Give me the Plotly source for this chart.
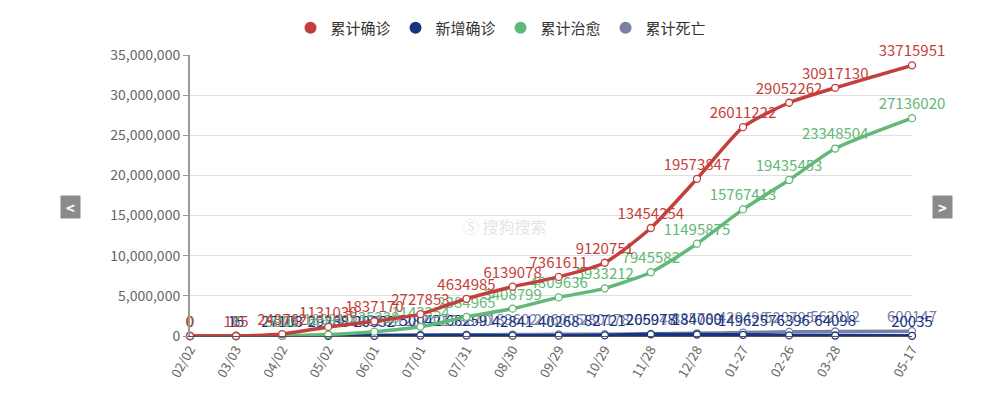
import plotly.graph_objects as go

dates = ["2020-02-02", "2020-03-03", "2020-04-02", "2020-05-02", "2020-06-01", "2020-07-01",
         "2020-07-31", "2020-08-30", "2020-09-29", "2020-10-29", "2020-11-28", "2020-12-28",
         "2021-01-27", "2021-02-26", "2021-03-28", "2021-05-17"]
tick_labels = ["02/02", "03/03", "04/02", "05/02", "06/01", "07/01", "07/31", "08/30", "09/29",
               "10/29", "11/28", "12/28", "01-27", "02-26", "03-28", "05-17"]

confirmed = [0, 115, 243762, 1131030, 1837170, 2727853, 4634985, 6139078, 7361611, 9120751,
             13454254, 19573847, 26011222, 29052262, 30917130, 33715951]
new_cases = [0, 15, 27103, 29288, 20352, 50042, 68259, 42841, 40268, 82721,
             205978, 184000, 149625, 76396, 64098, 20035]
recovered = [0, 7, 9001, 189910, 535238, 1143354, 2384965, 3408799, 4809636, 5933212,
             7945582, 11495875, 15767413, 19435453, 23348504, 27136020]
deaths = [0, 6, 5926, 66369, 106181, 128740, 153840, 183602, 206005, 230178,
          266047, 335789, 429490, 520795, 562012, 600147]

names = ["累计确诊", "新增确诊", "累计治愈", "累计死亡"]
colors = ["#c43f3b", "#17347f", "#62b876", "#7b7fa6"]
series = [confirmed, new_cases, recovered, deaths]

font_family = "Noto Sans CJK SC, Noto Sans, sans-serif"
fig = go.Figure()

for idx in [3, 1, 2, 0]:
    vals = series[idx]
    fig.add_trace(go.Scatter(
        x=dates, y=vals, mode="lines+markers+text",
        text=[str(v) for v in vals], textposition="top center",
        textfont=dict(color=colors[idx], size=15, family=font_family),
        line=dict(color=colors[idx], width=3.5, shape="spline", smoothing=0.6),
        marker=dict(symbol="circle", size=7, color="white",
                    line=dict(color=colors[idx], width=1.3)),
        showlegend=False, cliponaxis=False, name=names[idx],
    ))

for n, c in zip(names, colors):
    fig.add_trace(go.Scatter(x=[None], y=[None], mode="markers", name=n,
                             marker=dict(symbol="circle", size=14, color=c)))

fig.update_layout(
    width=991, height=390,
    margin=dict(l=182, r=87, t=47, b=62, autoexpand=False),
    paper_bgcolor="white", plot_bgcolor="white",
    font=dict(family=font_family, color="#666666", size=13),
    legend=dict(orientation="h", x=(501 - 190) / 722, xanchor="center", y=1 - 20 / 390,
                yanchor="middle", yref="container", font=dict(size=15, color="#333333"),
                itemsizing="constant", traceorder="normal",
                itemwidth=30, tracegroupgap=0),
    xaxis=dict(type="date", range=["2020-02-02", "2021-05-17"],
               tickmode="array", tickvals=dates, ticktext=tick_labels,
               tickangle=-60, showgrid=False, showline=True, linecolor="#555555",
               linewidth=1, ticks="outside", tickcolor="#999999", ticklen=0,
               tickfont=dict(size=13, color="#666666")),
    yaxis=dict(range=[0, 35000000], tickmode="array",
               tickvals=[0, 5000000, 10000000, 15000000, 20000000, 25000000, 30000000, 35000000],
               tickformat=",d", showgrid=True, gridcolor="#e0e0e0", gridwidth=1,
               showline=True, linecolor="#999999", linewidth=2, ticks="outside",
               tickcolor="#999999", ticklen=5, zeroline=False,
               tickfont=dict(size=14, color="#666666")),
)

# navigation arrow buttons
for cx, sym in [(70.5, "&lt;"), (942.5, "&gt;")]:
    fig.add_annotation(xref="paper", yref="paper", x=(cx - 190) / 722,
                       y=(336 - 207) / 281, xanchor="center", yanchor="middle",
                       text="<b>" + sym + "</b>",
                       showarrow=False, width=17, height=20, align="center",
                       bgcolor="#8a8a8a", borderpad=1,
                       font=dict(size=15, color="white"))

fig.add_annotation(xref="paper", yref="paper", x=(505 - 190) / 722, y=(336 - 226) / 281,
                   text="Ⓢ 搜狗搜索", showarrow=False,
                   font=dict(size=16, color="rgba(200,200,200,0.5)"))

fig.write_html("out.html")
